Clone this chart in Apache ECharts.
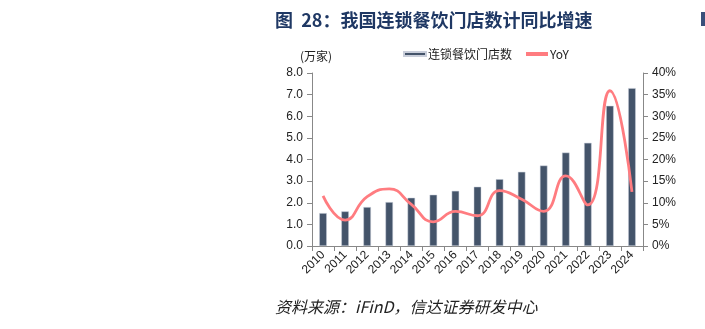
<!DOCTYPE html>
<html><head><meta charset="utf-8">
<script src="https://cdn.jsdelivr.net/npm/echarts@6/dist/echarts.min.js"></script>
<style>html,body{margin:0;padding:0;background:#fff}#c{width:705px;height:329px}</style>
</head><body><div id="c"></div>
<script>
const years = ['2010','2011','2012','2013','2014','2015','2016','2017','2018','2019','2020','2021','2022','2023','2024'];
const stores = [1.52,1.60,1.80,2.03,2.23,2.37,2.55,2.74,3.09,3.43,3.72,4.32,4.77,6.48,7.30];
const yoy = [11.6,6.0,11.4,13.2,9.6,5.6,8.0,7.0,12.8,10.8,8.0,16.2,9.5,35.9,12.5];
const leftTicks = ['0.0','1.0','2.0','3.0','4.0','5.0','6.0','7.0','8.0'];

const chart = echarts.init(document.getElementById('c'));
const numFont = 'Liberation Sans, Arial, sans-serif';
const cjk = '"Noto Sans CJK SC", sans-serif';
chart.setOption({
  animation:false,
  backgroundColor:'#fff',
  grid:{left:312,right:62,top:73,bottom:83},
  legend:{
    top:43,left:398,itemGap:14,itemWidth:22,itemHeight:4,
    textStyle:{fontFamily:cjk,fontSize:12,color:'#222',padding:[0,0,0,-3]},
    data:[{name:'连锁餐饮门店数',icon:'rect'},{name:'YoY',icon:'rect'}]
  },
  xAxis:{
    type:'category',data:years,
    axisLine:{lineStyle:{color:'#888',width:1}},
    axisTick:{show:true,alignWithLabel:false,length:5,lineStyle:{color:'#888'}},
    axisLabel:{rotate:45,fontFamily:numFont,fontSize:12,color:'#222',margin:7,interval:0}
  },
  yAxis:[
    {type:'value',min:0,max:8,interval:1,
     axisLine:{show:true,lineStyle:{color:'#888'}},
     axisTick:{show:true,length:5,inside:false,lineStyle:{color:'#888'}},
     splitLine:{show:false},
     axisLabel:{fontFamily:numFont,fontSize:12,color:'#222',margin:9,
       formatter:v=>leftTicks[Math.round(v)]}},
    {type:'value',min:0,max:40,interval:5,position:'right',
     axisLine:{show:true,lineStyle:{color:'#888'}},
     axisTick:{show:true,length:5,lineStyle:{color:'#888'}},
     splitLine:{show:false},
     axisLabel:{fontFamily:numFont,fontSize:12,color:'#222',margin:9,formatter:'{value}%'}}
  ],
  series:[
    {name:'连锁餐饮门店数',type:'bar',data:stores,barWidth:7.5,
     itemStyle:{color:'#44546A',borderColor:'#C9CEDA',borderWidth:0.5}},
    {name:'YoY',type:'line',yAxisIndex:1,data:yoy,smooth:0.5,symbol:'none',
     lineStyle:{color:'#FF7C80',width:2.8},itemStyle:{color:'#FF7C80'}}
  ],
  graphic:[
    {type:'text',left:275,top:11,style:{text:'图  28：我国连锁餐饮门店数计同比增速',
      font:'bold 18px "Noto Sans CJK SC", sans-serif',fill:'#1F3864'}},
    {type:'rect',left:701,top:12,shape:{width:4,height:14},style:{fill:'#3A4F7A'}},
    {type:'text',left:300,top:50,style:{text:'(万家)',font:'12px "Noto Sans CJK SC", sans-serif',fill:'#222'}},
    {type:'text',left:275,top:299,style:{text:'资料来源：iFinD，信达证券研发中心',
      font:'italic 16px "Noto Sans CJK SC", sans-serif',fill:'#222'}}
  ]
});
</script></body></html>
